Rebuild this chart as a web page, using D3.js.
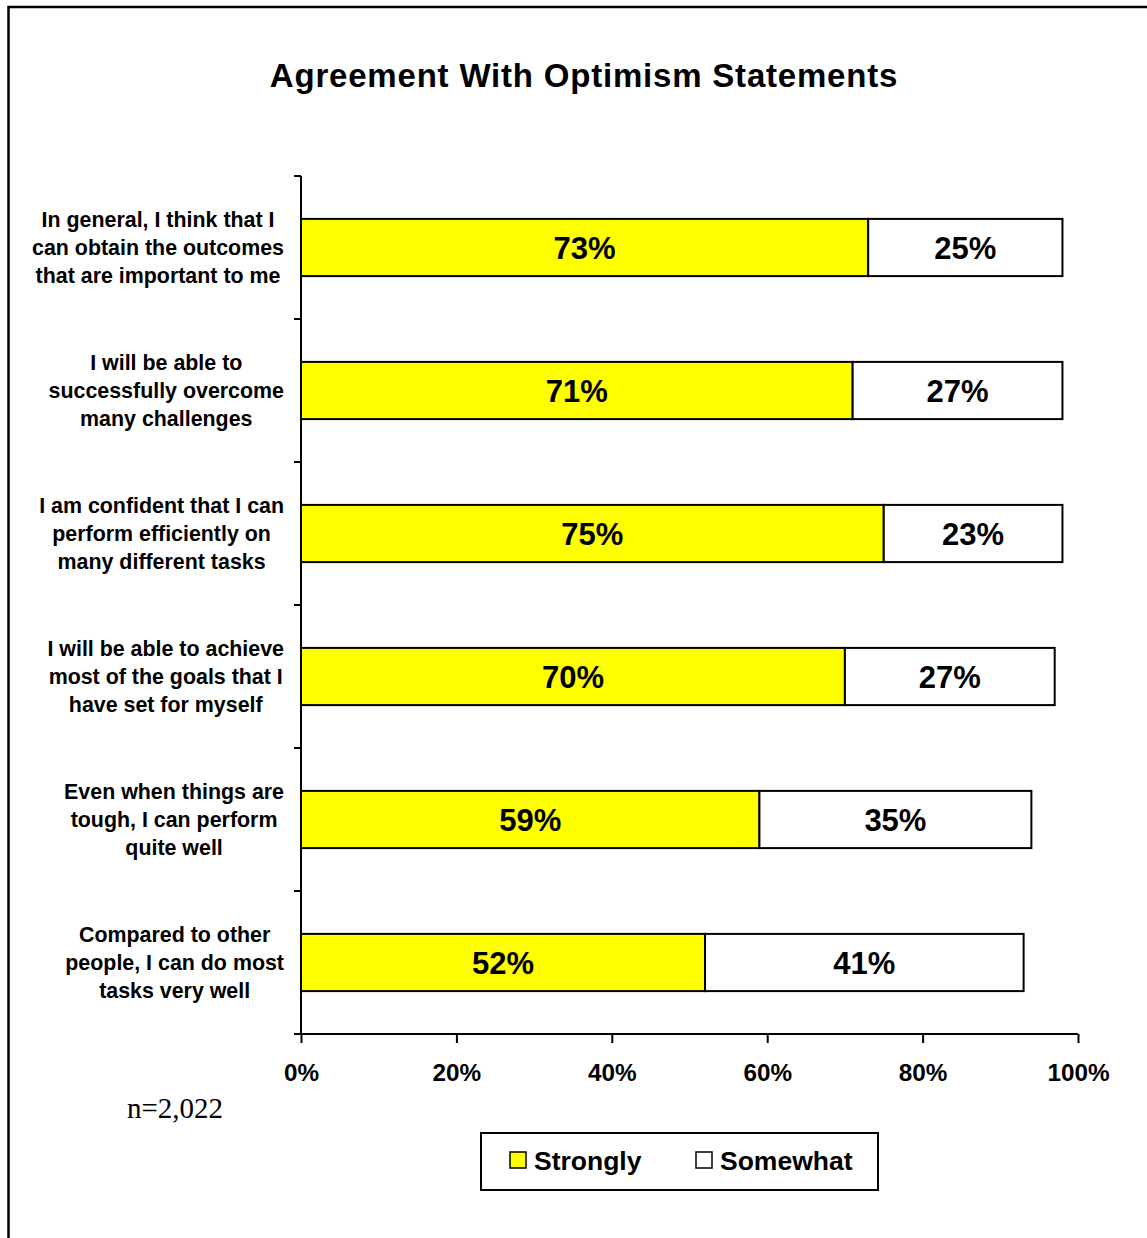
<!DOCTYPE html>
<html>
<head>
<meta charset="utf-8">
<script src="https://cdn.jsdelivr.net/npm/d3@7"></script>
<style>
  html, body { margin: 0; padding: 0; background: #fff; }
  svg { display: block; }
  text { font-family: "Liberation Sans", Arial, sans-serif; fill: #000; }
</style>
</head>
<body>
<svg id="chart" width="1147" height="1238"></svg>
<script>
// Survey statements (each drawn on up to three lines)
const categories = [
  ["In general, I think that I", "can obtain the outcomes", "that are important to me"],
  ["I will be able to", "successfully overcome", "many challenges"],
  ["I am confident that I can", "perform efficiently on", "many different tasks"],
  ["I will be able to achieve", "most of the goals that I", "have set for myself"],
  ["Even when things are", "tough, I can perform", "quite well"],
  ["Compared to other", "people, I can do most", "tasks very well"]
];
const strongly = [73, 71, 75, 70, 59, 52];
const somewhat = [25, 27, 23, 27, 35, 41];
const xTicks = [0, 20, 40, 60, 80, 100];
const seriesNames = ["Strongly", "Somewhat"];
const seriesColors = ["#FFFF00", "#FFFFFF"];

const svg = d3.select("#chart");

// outer frame (runs off the right and bottom edges)
svg.append("path")
  .attr("d", "M8.5,1240 L8.5,7 L1150,7")
  .attr("fill", "none").attr("stroke", "#000").attr("stroke-width", 2.5);

// title
svg.append("text")
  .attr("x", 584).attr("y", 87)
  .attr("text-anchor", "middle")
  .style("font-size", "33px").style("font-weight", "bold")
  .style("letter-spacing", "0.8px")
  .text("Agreement With Optimism Statements");

const plot = { left: 301, right: 1078, top: 176, bottom: 1034 };

const x = d3.scaleLinear().domain([0, 100]).range([plot.left, plot.right]);
const y = d3.scaleBand()
  .domain(d3.range(categories.length))
  .range([plot.top, plot.bottom])
  .paddingInner(0.6).paddingOuter(0.3);

const rows = categories.map((c, i) => ({ i, s: strongly[i], w: somewhat[i] }));

// stacked bars
const g = svg.append("g");
rows.forEach(r => {
  const segs = [
    { x0: 0, x1: r.s, fill: seriesColors[0] },
    { x0: r.s, x1: r.s + r.w, fill: seriesColors[1] }
  ];
  segs.forEach((s, k) => {
    g.append("rect")
      .attr("x", x(s.x0)).attr("y", y(r.i))
      .attr("width", x(s.x1) - x(s.x0)).attr("height", y.bandwidth())
      .attr("fill", s.fill).attr("stroke", "#000").attr("stroke-width", 2);
    g.append("text")
      .attr("x", (x(s.x0) + x(s.x1)) / 2)
      .attr("y", y(r.i) + y.bandwidth() / 2 + 11)
      .attr("text-anchor", "middle")
      .style("font-size", "31px").style("font-weight", "bold")
      .text((k === 0 ? r.s : r.w) + "%");
  });
});

// y axis: line with outward ticks at band boundaries
const yAxis = svg.append("g");
yAxis.append("line")
  .attr("x1", plot.left).attr("x2", plot.left)
  .attr("y1", plot.top).attr("y2", plot.bottom)
  .attr("stroke", "#000").attr("stroke-width", 2);
d3.range(categories.length + 1).forEach(k => {
  const yy = plot.top + k * y.step();
  yAxis.append("line")
    .attr("x1", plot.left - 7).attr("x2", plot.left)
    .attr("y1", yy).attr("y2", yy)
    .attr("stroke", "#000").attr("stroke-width", 2);
});

// category labels, block centred and right-aligned to the axis
categories.forEach((lines, i) => {
  const cy = y(i) + y.bandwidth() / 2;
  const t = svg.append("text")
    .attr("text-anchor", "middle")
    .style("font-size", "21.4px").style("font-weight", "bold");
  const spans = lines.map((ln, j) =>
    t.append("tspan").attr("y", cy + 7.5 + (j - (lines.length - 1) / 2) * 28).text(ln));
  const maxW = d3.max(spans, s => s.node().getComputedTextLength());
  spans.forEach(s => s.attr("x", 284 - maxW / 2));
});

// x axis
const xAxis = svg.append("g")
  .attr("transform", `translate(0,${plot.bottom})`)
  .call(d3.axisBottom(x).tickValues(xTicks).tickFormat(d => d + "%")
    .tickSize(9).tickPadding(0));
xAxis.select(".domain").attr("stroke", "#000").attr("stroke-width", 2)
  .attr("d", `M${plot.left},0H${plot.right}`);
xAxis.selectAll(".tick line").attr("stroke", "#000").attr("stroke-width", 2);
xAxis.selectAll(".tick text")
  .attr("y", 47).attr("dy", null)
  .style("font-family", '"Liberation Sans", Arial, sans-serif')
  .style("font-size", "24.3px").style("font-weight", "bold").attr("fill", "#000");

// sample size note
svg.append("text")
  .attr("x", 127).attr("y", 1118)
  .style("font-family", '"Liberation Serif", "Times New Roman", serif')
  .style("font-size", "29px")
  .text("n=2,022");

// legend
const legend = svg.append("g");
legend.append("rect")
  .attr("x", 481).attr("y", 1133).attr("width", 397).attr("height", 57)
  .attr("fill", "#fff").attr("stroke", "#000").attr("stroke-width", 2);
const legendX = [510, 696];
seriesNames.forEach((name, k) => {
  legend.append("rect")
    .attr("x", legendX[k]).attr("y", 1152).attr("width", 16).attr("height", 16)
    .attr("fill", seriesColors[k]).attr("stroke", "#000").attr("stroke-width", 1.5);
  legend.append("text")
    .attr("x", legendX[k] + 24).attr("y", 1170)
    .style("font-size", "26.5px").style("font-weight", "bold")
    .text(name);
});
</script>
</body>
</html>
